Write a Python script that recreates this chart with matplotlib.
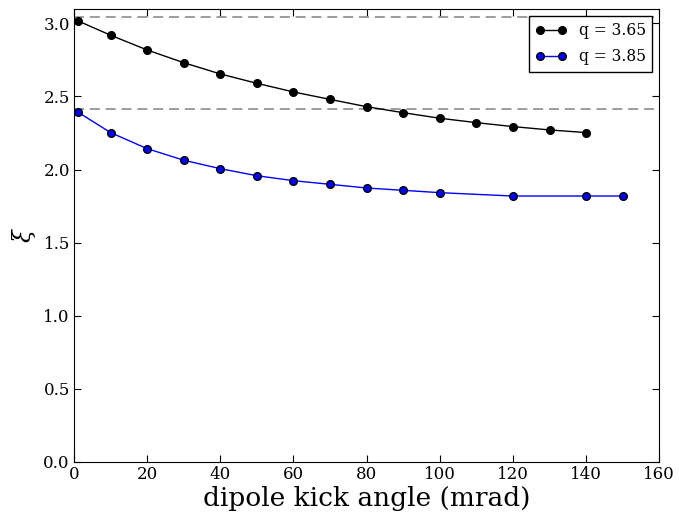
import numpy as np
import matplotlib
matplotlib.use('Agg')
import matplotlib.pyplot as plt

# ================
# Data
# ================

angle_365 = [1, 10, 20, 30, 40, 50, 60, 70, 80, 90, 100, 110, 120, 130, 140]
xi_365 = [3.018, 2.919, 2.818, 2.731, 2.654, 2.590, 2.531, 2.480, 2.430,
          2.389, 2.351, 2.321, 2.294, 2.271, 2.253]

angle_385 = [1, 10, 20, 30, 40, 50, 60, 70, 80, 90, 100, 120, 140, 150]
xi_385 = [2.394, 2.253, 2.143, 2.064, 2.006, 1.958, 1.924, 1.899, 1.874,
          1.858, 1.842, 1.819, 1.819, 1.819]

xi_ref = [3.042, 2.417]

label_365 = 'q = 3.65'
label_385 = 'q = 3.85'

# ================
# Plot
# ================

plt.rcParams['font.family'] = 'DejaVu Serif'
plt.rcParams['mathtext.fontset'] = 'dejavuserif'

fig = plt.figure(figsize=(6.79, 5.15), dpi=100)
ax = fig.add_axes([0.109, 0.103, 0.862, 0.880])

for y in xi_ref:
    ax.axhline(y, color='#8c8c8c', ls='--', lw=1.2, dashes=(6, 3.5))

ax.plot(angle_365, xi_365, '-o', color='black', mfc='black', mec='black',
        ms=5.5, lw=1.0, label=label_365)
ax.plot(angle_385, xi_385, '-o', color='blue', mfc='blue', mec='black',
        ms=5.5, lw=1.0, label=label_385)

ax.set_xlim(0, 160)
ax.set_ylim(0, 3.1)
ax.set_xticks(np.arange(0, 161, 20))
ax.set_yticks(np.arange(0, 3.01, 0.5))
ax.yaxis.set_major_formatter(matplotlib.ticker.FormatStrFormatter('%.1f'))
ax.tick_params(direction='in', top=True, right=True, labelsize=12, length=5,
               pad=3)

ax.set_xlabel('dipole kick angle (mrad)', fontsize=19, labelpad=2)
ax.set_ylabel(r'$\xi$', fontsize=17)

leg = ax.legend(loc='upper right', numpoints=2, fontsize=11.2, fancybox=False,
                framealpha=1, edgecolor='black', borderaxespad=0.45,
                handlelength=2.0, labelspacing=0.6, borderpad=0.4)
leg.get_frame().set_linewidth(1.0)

fig.savefig('out.png', dpi=100)
